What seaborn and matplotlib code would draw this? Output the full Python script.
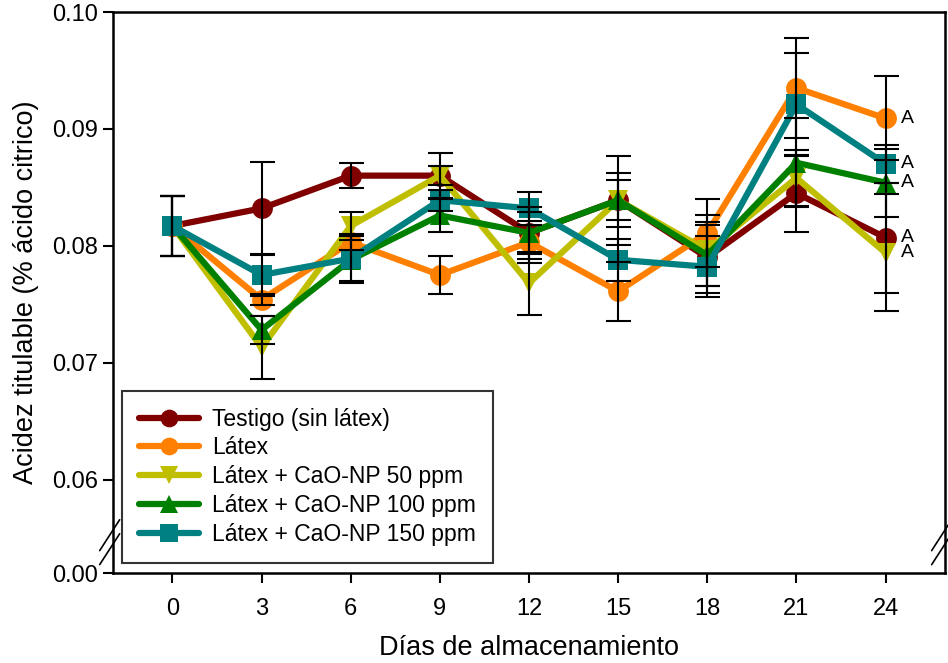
import numpy as np
import pandas as pd
import matplotlib
matplotlib.use("Agg")
import matplotlib.pyplot as plt
import seaborn as sns

days = [0, 3, 6, 9, 12, 15, 18, 21, 24]
series_names = ["Testigo (sin látex)", "Látex", "Látex + CaO-NP 50 ppm",
                "Látex + CaO-NP 100 ppm", "Látex + CaO-NP 150 ppm"]

testigo = [0.0817, 0.0832, 0.0860, 0.0860, 0.0811, 0.0839, 0.0790, 0.0845, 0.0807]
latex = [0.0817, 0.0754, 0.0803, 0.0775, 0.0803, 0.0761, 0.0811, 0.0935, 0.0909]
np50 = [0.0817, 0.0713, 0.0817, 0.0860, 0.0768, 0.0839, 0.0796, 0.0858, 0.0794]
np100 = [0.0817, 0.0728, 0.0788, 0.0826, 0.0811, 0.0839, 0.0792, 0.0871, 0.0854]
np150 = [0.0817, 0.0775, 0.0789, 0.0839, 0.0832, 0.0788, 0.0782, 0.0921, 0.0870]

err_testigo = [0.0026, 0.0040, 0.0011, 0.0008, 0.0018, 0.0038, 0.0030, 0.0033, 0.0047]
err_latex = [0.0026, 0.0005, 0.0007, 0.0016, 0.0018, 0.0025, 0.0029, 0.0043, 0.0036]
err_np50 = [0.0026, 0.0027, 0.0012, 0.0019, 0.0027, 0.0023, 0.0030, 0.0024, 0.0050]
err_np100 = [0.0026, 0.0012, 0.0020, 0.0014, 0.0022, 0.0017, 0.0026, 0.0038, 0.0029]
err_np150 = [0.0026, 0.0018, 0.0019, 0.0009, 0.0014, 0.0018, 0.0026, 0.0044, 0.0016]

letters = ["A", "A", "A", "A", "A"]

colors = ["#800000", "#FF8000", "#BFBF00", "#008000", "#008080"]
marker_list = ["o", "o", "v", "^", "s"]

yticks_vals = [0.052, 0.06, 0.07, 0.08, 0.09, 0.10]
yticks_labels = ["0.00", "0.06", "0.07", "0.08", "0.09", "0.10"]

values = [testigo, latex, np50, np100, np150]
errors = [err_testigo, err_latex, err_np50, err_np100, err_np150]

rows = []
for name, vals in zip(series_names, values):
    for d, v in zip(days, vals):
        rows.append({"dia": d, "valor": v, "serie": name})
df = pd.DataFrame(rows)

sns.set_theme(style="white")
plt.rcParams["font.family"] = ["Liberation Sans", "DejaVu Sans"]
plt.rcParams["text.color"] = "black"
plt.rcParams["axes.labelcolor"] = "black"

fig = plt.figure(figsize=(9.48, 6.63), dpi=100)
ax = fig.add_axes([0.1192, 0.1357, 0.8776, 0.8462])

sns.lineplot(data=df, x="dia", y="valor", hue="serie", style="serie",
             hue_order=series_names, style_order=series_names,
             palette=dict(zip(series_names, colors)),
             markers=dict(zip(series_names, marker_list)),
             dashes=False, linewidth=4.5, markersize=15,
             markeredgewidth=0, ax=ax, legend=True, zorder=2)

for vals, errs in zip(values, errors):
    ax.errorbar(days, vals, yerr=errs, fmt="none", ecolor="black",
                elinewidth=1.5, capsize=9, capthick=1.5, zorder=5)

for vals, lab in zip(values, letters):
    ax.annotate(lab, xy=(days[-1], vals[-1]), xytext=(11, 0),
                textcoords="offset points", va="center", ha="left",
                fontsize=14, color="black")

ax.set_xlim(-2, 26)
ax.set_ylim(0.052, 0.10)
ax.set_xticks(days)
ax.set_xticklabels([str(d) for d in days])
ax.set_yticks(yticks_vals)
ax.set_yticklabels(yticks_labels)
ax.tick_params(axis="both", direction="out", length=7, width=1.5,
               labelsize=17, colors="black", left=True, bottom=True)
ax.tick_params(axis="x", pad=11)
ax.tick_params(axis="y", pad=4)
for sp in ax.spines.values():
    sp.set_visible(True)
    sp.set_color("black")
    sp.set_linewidth(1.8)

ax.set_xlabel("Días de almacenamiento", fontsize=19.5, labelpad=11)
ax.set_ylabel("Acidez titulable (% ácido citrico)", fontsize=19.5, labelpad=9)

# axis break marks
for xa in (0.0, 1.0):
    for yo in (0.0, 0.025):
        ax.plot([xa - 0.016, xa + 0.008], [0.015 + yo, 0.07 + yo],
                transform=ax.transAxes, color="black", lw=1.2, clip_on=False, zorder=6)

leg = ax.legend(loc="lower left", bbox_to_anchor=(0.005, 0.01), fontsize=16.5,
                frameon=True, fancybox=False, edgecolor="black",
                handlelength=2.6, markerscale=0.85, borderpad=0.75,
                labelspacing=0.25, handletextpad=0.6, borderaxespad=0.2)
leg.get_frame().set_linewidth(1.5)
leg.set_title(None)
for h in leg.legend_handles:
    h.set_linewidth(4.5)

fig.savefig("out.png", dpi=100)
